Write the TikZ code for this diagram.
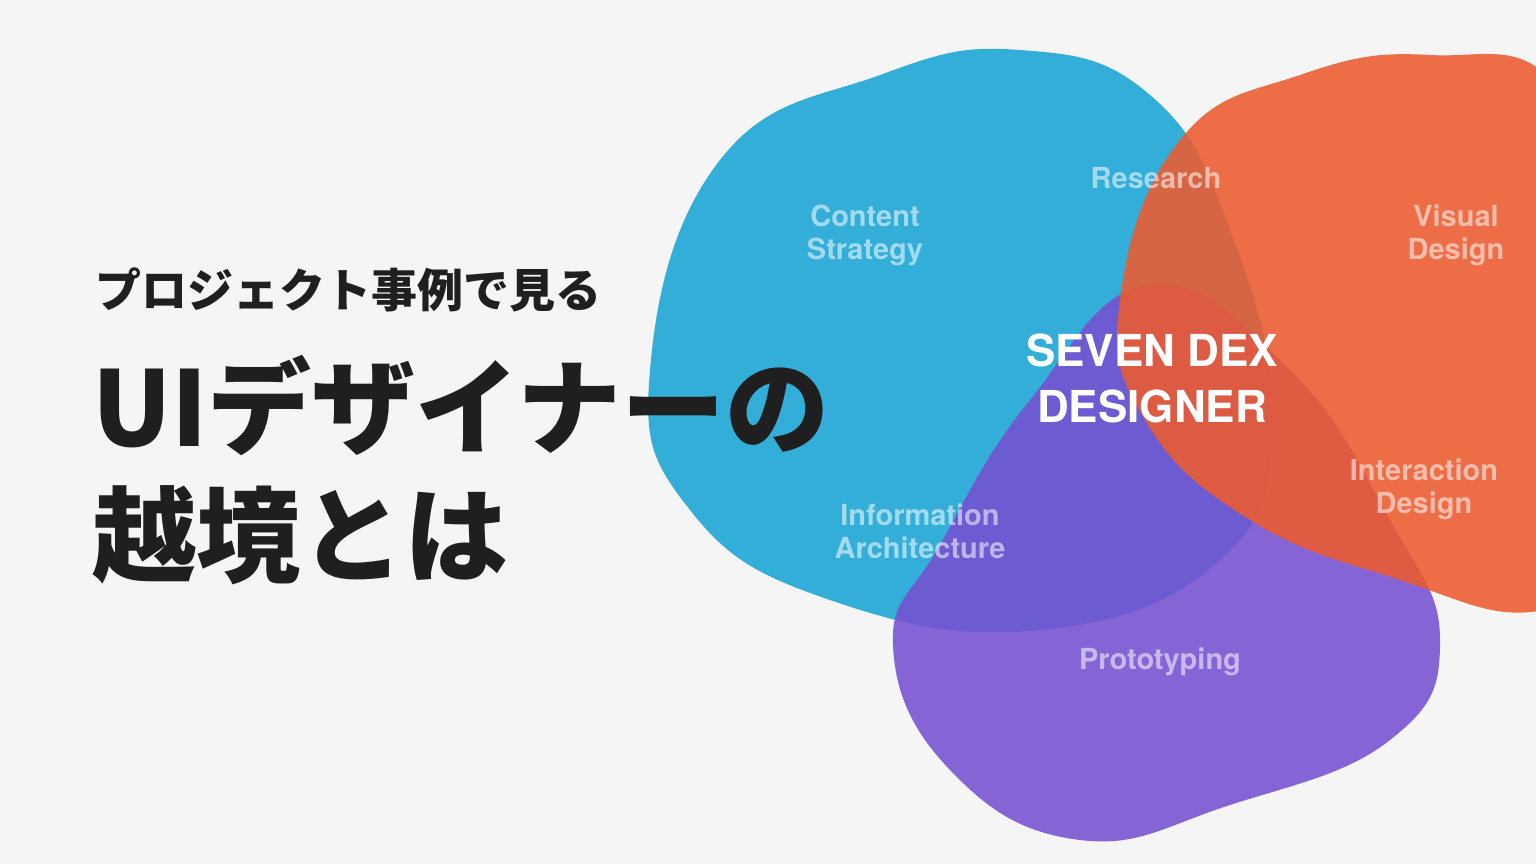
\documentclass[tikz,border=0pt]{standalone}
\usepackage{fontspec}
\setmainfont{TeX Gyre Heros}
\newfontfamily\jp{Noto Sans CJK JP}
\begin{document}
\begin{tikzpicture}[x=1pt,y=-1pt,
  lbl/.style={text=white,opacity=0.55,font=\bfseries\fontsize{29}{33}\selectfont,align=center},
  ttl/.style={anchor=west,inner sep=0,text=black!88,font=\jp\bfseries}]
\fill[black!4] (0,0) rectangle (1536,864);
\useasboundingbox (0,0) rectangle (1536,864);
\clip (0,0) rectangle (1536,864);
\fill[fill={rgb,255:red,51;green,174;blue,216}] plot[smooth cycle,tension=0.75] coordinates{
 (720,160)(880,75)(1020,50)(1150,95)(1230,230)(1272,420)(1220,560)(1040,630)(830,600)(690,510)(650,370)};
\fill[fill={rgb,255:red,118;green,80;blue,210},opacity=0.88] plot[smooth cycle,tension=0.75] coordinates{
 (1150,285)(1290,370)(1390,520)(1440,640)(1390,740)(1230,805)(1080,840)(950,770)(893,645)(940,545)(1030,400)};
\fill[fill={rgb,255:red,236;green,91;blue,47},opacity=0.88] plot[smooth cycle,tension=0.75] coordinates{
 (1180,140)(1300,75)(1430,55)(1560,90)(1620,300)(1600,560)(1530,612)(1400,580)(1250,520)(1145,420)(1120,300)};
\node[lbl] (cs) at (865,235) {Content\\Strategy};
\node[lbl] (rs) at (1156,178) {Research};
\node[lbl] (vd) at (1456,235) {Visual\\Design};
\node[lbl] (ia) at (920,531) {Information\\Architecture};
\node[lbl] (id) at (1424,489) {Interaction\\Design};
\node[lbl] (pt) at (1160,662) {Prototyping};
\node[text=white,align=center,font=\bfseries\fontsize{44}{56}\selectfont] (sd) at (1152,378) {SEVEN DEX\\DESIGNER};
\node[ttl,font=\jp\bfseries\fontsize{46}{50}\selectfont] (t1) at (95,290) {プロジェクト事例で見る};
\node[ttl,font=\jp\bfseries\fontsize{104}{110}\selectfont] (t2) at (92,405) {UIデザイナーの};
\node[ttl,font=\jp\bfseries\fontsize{104}{110}\selectfont] (t3) at (92,535) {越境とは};
\end{tikzpicture}
\end{document}
